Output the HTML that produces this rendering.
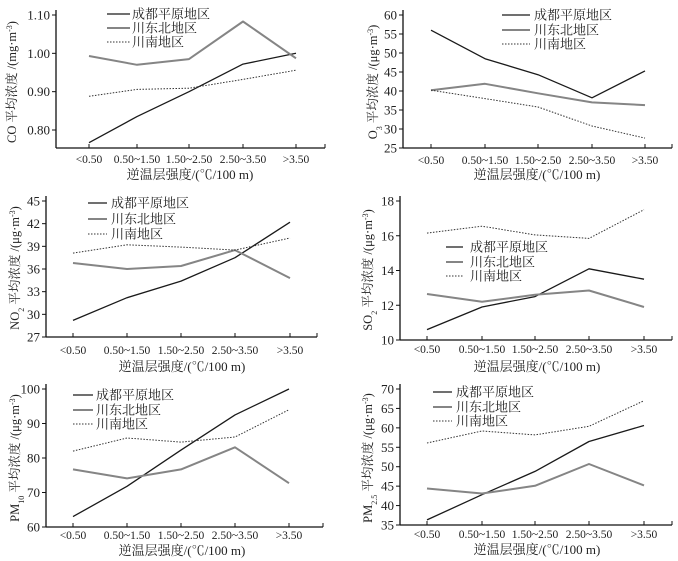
<!DOCTYPE html>
<html><head><meta charset="utf-8">
<style>
html,body{margin:0;padding:0;background:#fff;}
svg{display:block;font-family:"Liberation Serif","Noto Serif CJK SC","Noto Sans CJK SC",serif;}
</style></head>
<body>
<svg id="chart" width="678" height="561" viewBox="0 0 678 561" xmlns="http://www.w3.org/2000/svg"></svg>
<script>
const categories = ["<0.50","0.50~1.50","1.50~2.50","2.50~3.50",">3.50"];
const seriesNames = ["成都平原地区","川东北地区","川南地区"];

const coChengdu = [0.767,0.835,0.900,0.972,1.000];
const coDongbei = [0.993,0.970,0.985,1.083,0.987];
const coNan = [0.888,0.906,0.909,0.932,0.956];
const coTicks = [0.80,0.90,1.00,1.10];
const coTickLabels = ["0.80","0.90","1.00","1.10"];

const o3Chengdu = [56,48.5,44.3,38.2,45.3];
const o3Dongbei = [40.2,41.9,39.4,37.0,36.3];
const o3Nan = [40.2,38.0,35.8,30.8,27.6];
const o3Ticks = [25,30,35,40,45,50,55,60];

const no2Chengdu = [29.2,32.2,34.4,37.5,42.2];
const no2Dongbei = [36.8,36.0,36.4,38.5,34.8];
const no2Nan = [38.1,39.2,38.9,38.5,40.1];
const no2Ticks = [27,30,33,36,39,42,45];

const so2Chengdu = [10.6,11.9,12.5,14.1,13.5];
const so2Dongbei = [12.65,12.2,12.6,12.85,11.9];
const so2Nan = [16.15,16.55,16.05,15.85,17.5];
const so2Ticks = [10,12,14,16,18];

const pm10Chengdu = [63,71.8,82.3,92.5,100];
const pm10Dongbei = [76.7,74.1,76.7,83.1,72.7];
const pm10Nan = [82,85.8,84.6,86.1,94];
const pm10Ticks = [60,70,80,90,100];

const pm25Chengdu = [36.3,42.8,48.8,56.5,60.6];
const pm25Dongbei = [44.4,43.1,45.1,50.7,45.2];
const pm25Nan = [56.1,59.2,58.2,60.4,67];
const pm25Ticks = [35,40,45,50,55,60,65,70];

const NS="http://www.w3.org/2000/svg";
const svg=document.getElementById('chart');
function mk(tag,attrs,parent){const e=document.createElementNS(NS,tag);for(const k in attrs)e.setAttribute(k,attrs[k]);(parent||svg).appendChild(e);return e;}

const panels=[
 {key:'co',ax:56,v0:0.80,y0:130,v1:1.10,y1:15,bottom:148,top:10,cx:[89,137,189,243,296],right:325,leg:[107,130,132,[14,28,42]],ylx:12,yly:82,xlx:190,xly:179,tly:163,
  data:[coChengdu,coDongbei,coNan],ticks:coTicks,tl:coTickLabels,lab:['CO 平均浓度 /(mg·m','-3',')'],sub:null},
 {key:'o3',ax:403,v0:25,y0:148,v1:60,y1:15,bottom:148,top:10,cx:[431,485,538,592,645],right:672,leg:[502,530,534,[15,30,44]],ylx:373,yly:82,xlx:537,xly:179,tly:164,
  data:[o3Chengdu,o3Dongbei,o3Nan],ticks:o3Ticks,lab:['O','3',' 平均浓度 /(μg·m','-3',')'],sub:true},
 {key:'no2',ax:46,v0:27,y0:337,v1:45,y1:201,bottom:337,top:196,cx:[73,127,181,235,290],right:317,leg:[88,107,111,[203,219,234]],ylx:15,yly:268,xlx:182,xly:371,tly:354,
  data:[no2Chengdu,no2Dongbei,no2Nan],ticks:no2Ticks,lab:['NO','2',' 平均浓度 /(μg·m','-3',')'],sub:true},
 {key:'so2',ax:400,v0:10,y0:340,v1:18,y1:201,bottom:340,top:196,cx:[427,482,535,589,644],right:672,leg:[446,463,470,[247,262,276]],ylx:368,yly:270,xlx:537,xly:371,tly:353,
  data:[so2Chengdu,so2Dongbei,so2Nan],ticks:so2Ticks,lab:['SO','2',' 平均浓度 /(μg·m','-3',')'],sub:true},
 {key:'pm10',ax:46,v0:60,y0:527,v1:100,y1:389,bottom:527,top:384,cx:[73,127,181,235,289],right:323,leg:[73,93,96,[395,410,424]],ylx:15,yly:458,xlx:182,xly:555,tly:539,
  data:[pm10Chengdu,pm10Dongbei,pm10Nan],ticks:pm10Ticks,lab:['PM','10',' 平均浓度 /(μg·m','-3',')'],sub:true},
 {key:'pm25',ax:400,v0:35,y0:525,v1:70,y1:389,bottom:525,top:384,cx:[427,482,535,589,644],right:672,leg:[433,452,456,[392,407,421]],ylx:368,yly:458,xlx:537,xly:554,tly:538,
  data:[pm25Chengdu,pm25Dongbei,pm25Nan],ticks:pm25Ticks,lab:['PM','2.5',' 平均浓度 /(μg·m','-3',')'],sub:true}
];
const styles=[{stroke:'#1a1a1a','stroke-width':1.3},{stroke:'#858585','stroke-width':2},{stroke:'#333','stroke-width':1,'stroke-dasharray':'1.5,1.5'}];

panels.forEach(p=>{
  const g=mk('g',{});
  
  
  const y=v=>p.y0+(v-p.v0)*(p.y1-p.y0)/(p.v1-p.v0);
  const yax=mk('line',{x1:p.ax,y1:p.top,x2:p.ax,y2:p.bottom,stroke:'#111','stroke-width':1.3},g);
  
  
  const xax=mk('line',{x1:p.ax,y1:p.bottom,x2:p.right,y2:p.bottom,stroke:'#111','stroke-width':1.3},g);
  
  
  p.ticks.forEach((t,i)=>{
    const yy=y(t);
    mk('line',{x1:p.ax-4,y1:yy,x2:p.ax,y2:yy,stroke:'#111','stroke-width':1},g);
    const tx=mk('text',{x:p.ax-6,y:yy+4.5,'text-anchor':'end','font-size':13,fill:'#222'},g);
    tx.textContent=p.tl?p.tl[i]:String(t);
    
    
  });
  p.cx.concat([p.right]).forEach(x=>mk('line',{x1:x,y1:p.bottom-4,x2:x,y2:p.bottom,stroke:'#111','stroke-width':1},g));
  categories.forEach((c,i)=>{
    const tx=mk('text',{x:p.cx[i],y:p.tly,'text-anchor':'middle','font-size':11.5,fill:'#222'},g);
    tx.textContent=c;
    
    
  });
  const xl=mk('text',{x:p.xlx,y:p.xly,'text-anchor':'middle','font-size':13,fill:'#222'},g);
  xl.textContent='逆温层强度/(℃/100 m)';
  
  
  const yl=mk('text',{x:0,y:0,'text-anchor':'middle','font-size':12.5,fill:'#222',transform:`translate(${p.ylx+4},${p.yly}) rotate(-90)`},g);
  
  
  p.lab.forEach((s,i)=>{
    const ts=mk('tspan',{},yl);
    if(s==='-3'){ts.setAttribute('baseline-shift','super');ts.setAttribute('font-size',8);}
    else if(p.sub&&i===1){ts.setAttribute('baseline-shift','sub');ts.setAttribute('font-size',8);}
    ts.textContent=s;
  });
  p.data.forEach((arr,si)=>{
    const pts=arr.map((v,i)=>p.cx[i]+','+y(v).toFixed(1)).join(' ');
    const pl=mk('polyline',Object.assign({points:pts,fill:'none','stroke-linejoin':'round'},styles[si]),g);
    
    
    const ly=p.leg[3][si];
    const ll=mk('line',Object.assign({x1:p.leg[0],y1:ly,x2:p.leg[1],y2:ly},styles[si]),g);
    
    
    const lt=mk('text',{x:p.leg[2],y:ly+4.5,'font-size':13,fill:'#222','font-family':'"Noto Serif CJK SC","Noto Sans CJK SC",serif'},g);
    lt.textContent=seriesNames[si];
    
    
  });
});
</script>
</body></html>
